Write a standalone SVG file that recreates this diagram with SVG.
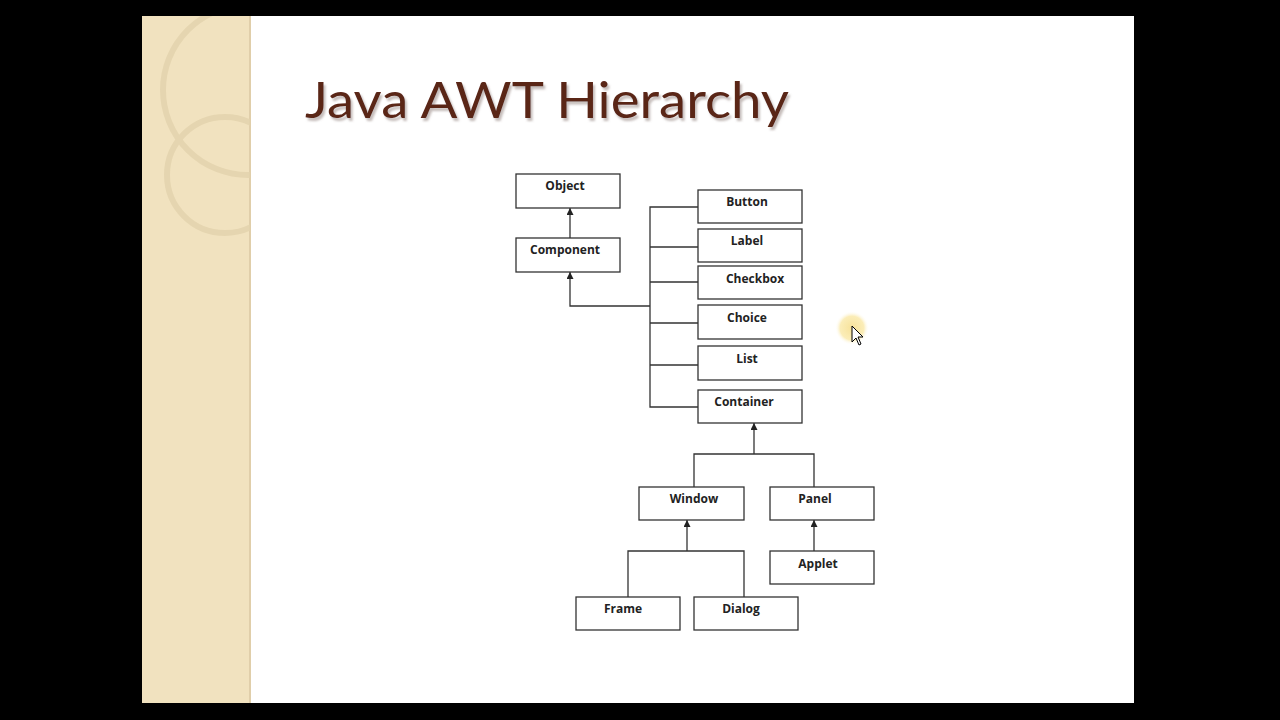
<svg xmlns="http://www.w3.org/2000/svg" width="1280" height="720" viewBox="0 0 1280 720">
<defs>
<style>
.n rect{fill:#fff;stroke:#333;stroke-width:1.3}
.n text{font-family:"Open Sans","Liberation Sans",sans-serif;font-weight:bold;font-size:12px;fill:#222;text-anchor:middle}
#connectors path{fill:none;stroke:#333;stroke-width:1.3}
</style>
<marker id="ar" viewBox="0 0 8 8" refX="8" refY="4" markerWidth="7" markerHeight="7" orient="auto" markerUnits="userSpaceOnUse">
<path d="M0,0 L8,4 L0,8 Z" fill="#222"/>
</marker>
<radialGradient id="glow"><stop offset="0" stop-color="#f7e29a"/><stop offset="0.7" stop-color="#fbedb8"/><stop offset="1" stop-color="#fff" stop-opacity="0"/></radialGradient>
<clipPath id="side"><rect x="142" y="16" width="108" height="687"/></clipPath>
<filter id="sh" x="-5%" y="-20%" width="110%" height="150%"><feDropShadow dx="2" dy="3" stdDeviation="1.2" flood-color="#8a7a74" flood-opacity="0.5"/></filter>
</defs>
<rect width="1280" height="720" fill="#000"/>
<rect x="142" y="16" width="992" height="687" fill="#fff"/>
<rect x="142" y="16" width="108" height="687" fill="#f1e2bf"/>
<line x1="250" y1="16" x2="250" y2="703" stroke="#e0ceaa" stroke-width="2"/>
<g fill="none" stroke="#e3d3ad" stroke-width="6" opacity="0.8" clip-path="url(#side)">
<circle cx="248" cy="90" r="85"/>
<circle cx="225" cy="175" r="58"/>
</g>
<text x="305" y="118" font-family="Lato,'Open Sans',sans-serif" font-size="50" fill="#5a2519" textLength="484" lengthAdjust="spacingAndGlyphs" filter="url(#sh)">Java AWT Hierarchy</text>
<g id="connectors">
<path d="M570,238 V208" marker-end="url(#ar)"/>
<path d="M650,306 H570 V272" marker-end="url(#ar)"/>
<path d="M698,207 H650 V407 H698"/>
<path d="M650,247 H698 M650,282 H698 M650,323 H698 M650,365 H698"/>
<path d="M694,487 V454 H814 V487"/>
<path d="M754,454 V423" marker-end="url(#ar)"/>
<path d="M628,597 V551 H744 V597"/>
<path d="M687,551 V520" marker-end="url(#ar)"/>
<path d="M814,551 V520" marker-end="url(#ar)"/>
</g>
<g id="object" class="n"><rect x="516" y="174" width="104" height="34"/><text x="565" y="190">Object</text></g>
<g id="component" class="n"><rect x="516" y="238" width="104" height="34"/><text x="565" y="254">Component</text></g>
<g id="button" class="n"><rect x="698" y="190" width="104" height="33"/><text x="747" y="206">Button</text></g>
<g id="label" class="n"><rect x="698" y="229" width="104" height="33"/><text x="747" y="245">Label</text></g>
<g id="checkbox" class="n"><rect x="698" y="266" width="104" height="33"/><text x="755" y="283">Checkbox</text></g>
<g id="choice" class="n"><rect x="698" y="305" width="104" height="34"/><text x="747" y="322">Choice</text></g>
<g id="list" class="n"><rect x="698" y="346" width="104" height="34"/><text x="747" y="363">List</text></g>
<g id="container" class="n"><rect x="698" y="390" width="104" height="33"/><text x="744" y="406">Container</text></g>
<g id="window" class="n"><rect x="639" y="487" width="105" height="33"/><text x="694" y="503">Window</text></g>
<g id="panel" class="n"><rect x="770" y="487" width="104" height="33"/><text x="815" y="503">Panel</text></g>
<g id="applet" class="n"><rect x="770" y="551" width="104" height="33"/><text x="818" y="568">Applet</text></g>
<g id="frame" class="n"><rect x="576" y="597" width="104" height="33"/><text x="623" y="613">Frame</text></g>
<g id="dialog" class="n"><rect x="694" y="597" width="104" height="33"/><text x="741" y="613">Dialog</text></g>
<circle cx="852" cy="328" r="17" fill="url(#glow)"/>
<path d="M852,326 V342 L856,338 L859,345 L861,344 L858,337 L863,337 Z" fill="#fff" stroke="#000" stroke-width="1"/>
</svg>
